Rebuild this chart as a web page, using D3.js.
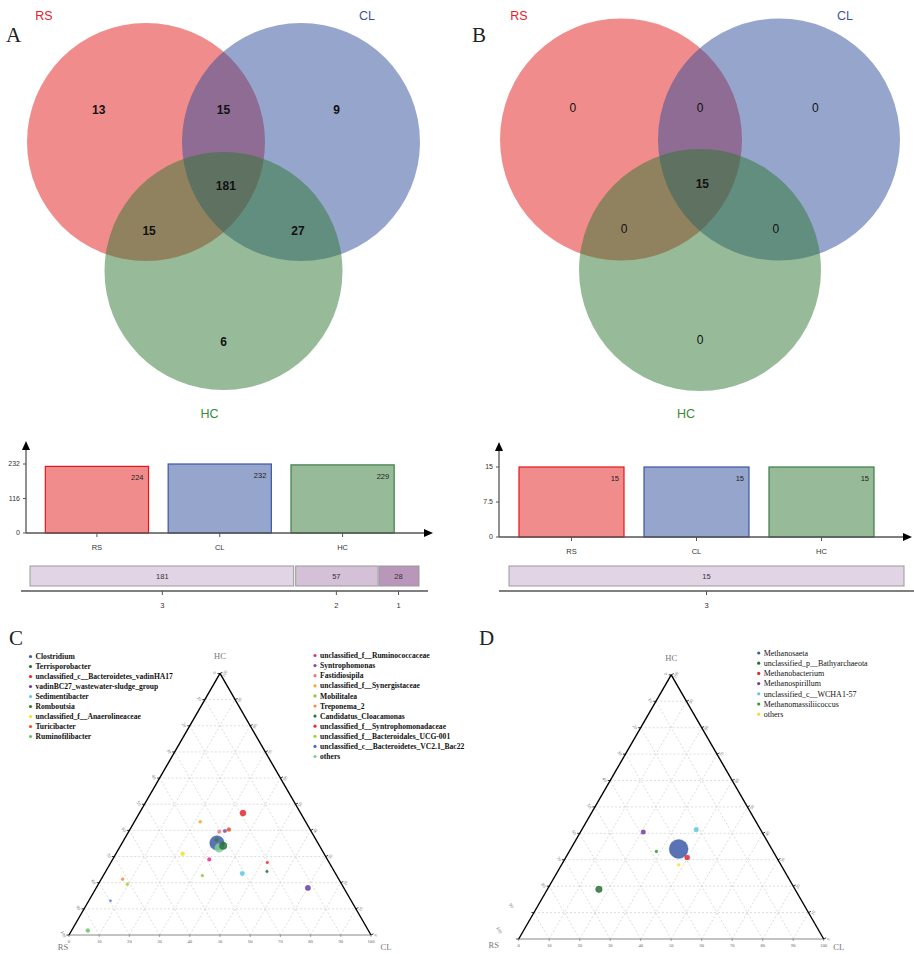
<!DOCTYPE html>
<html lang="en">
<head>
<meta charset="UTF-8" />
<title>Venn and ternary</title>
<script src="https://cdn.jsdelivr.net/npm/d3@7"></script>
<style>
  body { margin: 0; background: #fff; }
  svg text { font-family: "Liberation Sans", Arial, sans-serif; }
  .serif { font-family: "Liberation Serif", "Times New Roman", serif !important; }
</style>
</head>
<body>
<svg id="fig" width="914" height="954"></svg>
<script>
// ---- data ----
var groups = ["RS", "CL", "HC"];
var groupColors = ["#e41a1c", "#2b4b99", "#2f7731"];
var labelColors = ["#e8202a", "#3f51a5", "#3a8a3a"];
var barStrokes = ["#e8141a", "#3a55a5", "#3d7d45"];

// venn regions: RS only, RS&CL, CL only, RS&CL&HC, RS&HC, CL&HC, HC only
var regionKeys = ["RS", "RS&CL", "CL", "ALL", "RS&HC", "CL&HC", "HC"];
var vennA = [13, 15, 9, 181, 15, 27, 6];
var vennB = [0, 0, 0, 15, 0, 0, 0];

var totalsA = [224, 232, 229];
var totalsB = [15, 15, 15];
var yTicksA = [0, 116, 232];
var yTicksB = [0, 7.5, 15];

var sharedLabelsA = ["3", "2", "1"];
var sharedA = [181, 57, 28];
var sharedLabelsB = ["3"];
var sharedB = [15];
var sharedColors = {"3": "#e1d4e4", "2": "#d4c0d7", "1": "#b897ba"};

// ternary C: names, RS / CL / HC percentages, abundance
var taxaC = ["Clostridium", "Terrisporobacter", "unclassified_c__Bacteroidetes_vadinHA17",
  "vadinBC27_wastewater-sludge_group", "Sedimentibacter", "Romboutsia",
  "unclassified_f__Anaerolineaceae", "Turicibacter", "Ruminofilibacter",
  "unclassified_f__Ruminococcaceae", "Syntrophomonas", "Fastidiosipila",
  "unclassified_f__Synergistaceae", "Mobilitalea", "Treponema_2",
  "Candidatus_Cloacamonas", "unclassified_f__Syntrophomonadaceae",
  "unclassified_f__Bacteroidales_UCG-001", "unclassified_c__Bacteroidetes_VC2.1_Bac22", "others"];
var rsC = [33.4, 31.9, 19.1, 11.9, 30.9, 32.9, 46.8, 26.9, 92.9, 39.1, 28.5, 30.5, 34.9, 44.5, 71.6, 22.3, 20.5, 71.0, 79.7, 33.6];
var clC = [31.4, 34.0, 34.3, 70.1, 45.6, 30.7, 22.1, 32.8, 5.4, 32.0, 31.7, 30.0, 21.8, 32.8, 7.1, 53.4, 51.8, 9.6, 7.2, 33.1];
var hcC = [35.2, 34.1, 46.6, 18.0, 23.5, 36.4, 31.1, 40.3, 1.7, 28.9, 39.8, 39.5, 43.3, 22.7, 21.3, 24.3, 27.7, 19.4, 13.1, 33.3];
var abundC = [27, 7.4, 4.6, 3.7, 2.5, 1.7, 2.0, 2.0, 2.0, 1.7, 1.6, 1.6, 1.2, 1.0, 1.1, 0.9, 0.9, 1.0, 0.6, 10];
var colorsC = ["#3c5aa8", "#2a6e3a", "#e8262a", "#6b3fa0", "#5bc8e0", "#3a7a30",
  "#f2e01e", "#f04e23", "#6cc46c", "#e6288a", "#7b4f9d", "#f07474",
  "#f6a821", "#8dc63f", "#f7894a", "#1e7b3c", "#ea2a3c", "#a6d22e", "#4a6ecc", "#7fcf9a"];

var taxaD = ["Methanosaeta", "unclassified_p__Bathyarchaeota", "Methanobacterium",
  "Methanospirillum", "unclassified_c__WCHA1-57", "Methanomassiliicoccus", "others"];
var rsD = [30.5, 64.3, 29.3, 38.9, 21.1, 38.3, 33.5];
var clD = [35.4, 16.9, 39.8, 20.6, 37.5, 28.6, 38.4];
var hcD = [34.1, 18.8, 30.9, 40.5, 41.4, 33.1, 28.1];
var abundD = [46, 5.6, 3.2, 2.7, 2.7, 1.1, 0.9];
var colorsD = ["#3c5aa8", "#2a6e3a", "#e8262a", "#6b3fa0", "#5bc8e0", "#3a9a30", "#f2e01e"];

var gridTicks = [0, 10, 20, 30, 40, 50, 60, 70, 80, 90, 100];

var svg = d3.select("#fig");

// ---- venn ----
function venn(cx, cy, d, dy, r, counts, boldAll, letter, lx) {
  var g = svg.append("g");
  var centers = [[cx - d, cy], [cx + d, cy], [cx, cy + dy]];
  g.selectAll("circle").data(groups).enter().append("circle")
    .attr("cx", function(s, i) { return centers[i][0]; })
    .attr("cy", function(s, i) { return centers[i][1]; })
    .attr("r", r)
    .attr("fill", function(s, i) { return groupColors[i]; })
    .attr("fill-opacity", 0.5);
  // region label offsets (x in units of d, y in px from top row)
  var off = [[-1.61, -32], [0, -32], [1.46, -32], [0.03, 44], [-0.96, 89], [0.96, 89], [0, 200]];
  g.selectAll("text.n").data(counts).enter().append("text")
    .attr("class", "n")
    .attr("x", function(v, i) { return cx + off[i][0] * d; })
    .attr("y", function(v, i) { return cy + off[i][1]; })
    .attr("dy", "0.35em")
    .attr("text-anchor", "middle")
    .style("font-size", "12px")
    .style("font-weight", function(v, i) { return (boldAll || i == 3) ? "bold" : "normal"; })
    .style("fill", "#111")
    .text(function(v) { return v; });
  var lp = [[cx - d - 102, 16], [cx + d + 66, 16], [cx - 14, 414]];
  g.selectAll("text.g").data(groups).enter().append("text")
    .attr("class", "g")
    .attr("x", function(s, i) { return lp[i][0]; })
    .attr("y", function(s, i) { return lp[i][1]; })
    .attr("dy", "0.35em")
    .attr("text-anchor", "middle")
    .style("font-size", "12.5px")
    .style("fill", function(s, i) { return labelColors[i]; })
    .text(function(s) { return s; });
  svg.append("text").attr("class", "serif")
    .attr("x", lx).attr("y", 42)
    .style("font-size", "21px").style("fill", "#222")
    .text(letter);
}
venn(223.5, 142, 77.5, 129, 119, vennA, true, "A", 6);
venn(700, 139.5, 79, 130.5, 121, vennB, false, "B", 472);

// ---- bars ----
function arrowHead(g, x, y, dir) {
  var p = dir == "up" ? [[x, y], [x - 4, y + 9], [x + 4, y + 9]] : [[x, y], [x - 9, y - 4], [x - 9, y + 4]];
  g.append("path").attr("d", "M" + p.join("L") + "Z").attr("fill", "#000");
}

function barChart(x0, xEnd, y0, yTop, arrowTop, totals, yTicks, bandRange, shared, sharedLabels, sharedRange, lineRange) {
  var g = svg.append("g");
  var y = d3.scaleLinear().domain([0, yTicks[yTicks.length - 1]]).range([y0, yTop]);
  var x = d3.scaleBand().domain(groups).range(bandRange).paddingInner(0.16).paddingOuter(0.08);
  g.selectAll("rect.b").data(totals).enter().append("rect")
    .attr("class", "b")
    .attr("x", function(v, i) { return x(groups[i]); })
    .attr("y", function(v) { return y(v); })
    .attr("width", x.bandwidth())
    .attr("height", function(v) { return y0 - y(v); })
    .attr("fill", function(v, i) { return groupColors[i]; })
    .attr("fill-opacity", 0.5)
    .attr("stroke", function(v, i) { return barStrokes[i]; })
    .attr("stroke-width", 1.2);
  g.selectAll("text.v").data(totals).enter().append("text")
    .attr("class", "v")
    .attr("x", function(v, i) { return x(groups[i]) + x.bandwidth() - 5; })
    .attr("y", function(v) { return y(v) + 14; })
    .attr("text-anchor", "end")
    .style("font-size", "7.5px").style("fill", "#222")
    .text(function(v) { return v; });
  // axes
  g.append("line").attr("x1", x0).attr("x2", x0).attr("y1", y0).attr("y2", arrowTop + 6)
    .attr("stroke", "#555").attr("stroke-width", 1.3);
  arrowHead(g, x0, arrowTop, "up");
  g.append("line").attr("x1", x0).attr("x2", xEnd - 6).attr("y1", y0).attr("y2", y0)
    .attr("stroke", "#555").attr("stroke-width", 1.3);
  arrowHead(g, xEnd, y0, "right");
  g.selectAll("g.yt").data(yTicks).enter().append("g").attr("class", "yt")
    .each(function(t) {
      var s = d3.select(this);
      s.append("line").attr("x1", x0 - 3).attr("x2", x0).attr("y1", y(t)).attr("y2", y(t))
        .attr("stroke", "#555");
      s.append("text").attr("x", x0 - 6).attr("y", y(t)).attr("dy", "0.35em")
        .attr("text-anchor", "end").style("font-size", "7px").style("fill", "#333").text(t);
    });
  g.selectAll("g.xt").data(groups).enter().append("g").attr("class", "xt")
    .each(function(s) {
      var cx = x(s) + x.bandwidth() / 2;
      d3.select(this).append("line").attr("x1", cx).attr("x2", cx).attr("y1", y0).attr("y2", y0 + 4)
        .attr("stroke", "#555");
      d3.select(this).append("text").attr("x", cx).attr("y", y0 + 14).attr("dy", "0.35em")
        .attr("text-anchor", "middle").style("font-size", "7.5px").style("fill", "#333").text(s);
    });
  // shared-count bars
  var total = d3.sum(shared);
  var sx = d3.scaleLinear().domain([0, total]).range(sharedRange);
  var cum = [0];
  shared.forEach(function(v, i) { cum.push(cum[i] + v); });
  g.selectAll("rect.s").data(shared).enter().append("rect")
    .attr("class", "s")
    .attr("x", function(v, i) { return sx(cum[i]) + (i > 0 ? 1 : 0); })
    .attr("y", 566)
    .attr("width", function(v, i) { return sx(cum[i + 1]) - sx(cum[i]) - (shared.length > 1 ? 1 : 0); })
    .attr("height", 20)
    .attr("fill", function(v, i) { return sharedColors[sharedLabels[i]]; })
    .attr("stroke", "#9a9a9a").attr("stroke-width", 1);
  g.selectAll("text.s").data(shared).enter().append("text")
    .attr("class", "s")
    .attr("x", function(v, i) { return (sx(cum[i]) + sx(cum[i + 1])) / 2; })
    .attr("y", 576).attr("dy", "0.35em").attr("text-anchor", "middle")
    .style("font-size", "7.5px").style("fill", "#333")
    .text(function(v) { return v; });
  g.append("line").attr("x1", lineRange[0]).attr("x2", lineRange[1]).attr("y1", 591).attr("y2", 591)
    .attr("stroke", "#555").attr("stroke-width", 1.3);
  g.selectAll("g.st").data(shared).enter().append("g").attr("class", "st")
    .each(function(v, i) {
      var cx = (sx(cum[i]) + sx(cum[i + 1])) / 2;
      d3.select(this).append("line").attr("x1", cx).attr("x2", cx).attr("y1", 591).attr("y2", 595)
        .attr("stroke", "#555");
      d3.select(this).append("text").attr("x", cx).attr("y", 605).attr("dy", "0.35em")
        .attr("text-anchor", "middle").style("font-size", "7.5px").style("fill", "#333").text(sharedLabels[i]);
    });
}
barChart(26, 433, 533, 464, 441, totalsA, yTicksA, [35.5, 404], sharedA, sharedLabelsA, [30, 419], [21, 428]);
barChart(499, 912, 537, 467, 442, totalsB, yTicksB, [509, 884], sharedB, sharedLabelsB, [509, 904], [499, 914]);

// ---- ternary ----
function ternary(blx, bly, side, rs, cl, hc, abund, colors, letter, lpos, shift, axisPos) {
  var g = svg.append("g");
  var h = side * Math.sqrt(3) / 2;
  var sc = d3.scaleLinear().domain([0, 100]).range([0, 1]);
  function pt(a, b, c) { // RS, CL, HC
    return [blx + side * (sc(b) + sc(c) / 2), bly - h * sc(c)];
  }
  var grid = [];
  gridTicks.slice(1, -1).forEach(function(k) {
    grid.push([pt(100 - k, 0, k), pt(0, 100 - k, k)]);
    grid.push([pt(100 - k, k, 0), pt(0, k, 100 - k)]);
    grid.push([pt(k, 100 - k, 0), pt(k, 0, 100 - k)]);
  });
  g.selectAll("line.grid").data(grid).enter().append("line").attr("class", "grid")
    .attr("x1", function(d) { return d[0][0]; }).attr("y1", function(d) { return d[0][1]; })
    .attr("x2", function(d) { return d[1][0]; }).attr("y2", function(d) { return d[1][1]; })
    .attr("stroke", "#c4c4c4").attr("stroke-width", 0.6).attr("stroke-dasharray", "2,2");
  var A = pt(0, 0, 100), L = pt(100, 0, 0), R = pt(0, 100, 0);
  g.append("line").attr("x1", L[0]).attr("y1", L[1]).attr("x2", R[0]).attr("y2", R[1])
    .attr("stroke", "#888").attr("stroke-width", 1);
  g.append("line").attr("x1", L[0]).attr("y1", L[1]).attr("x2", A[0]).attr("y2", A[1])
    .attr("stroke", "#000").attr("stroke-width", 1.4);
  g.append("line").attr("x1", R[0]).attr("y1", R[1]).attr("x2", A[0]).attr("y2", A[1])
    .attr("stroke", "#000").attr("stroke-width", 1.4);
  var fs = "4.6px", tc = "#666";
  gridTicks.forEach(function(v) {
    var b = pt(100 - v, v, 0);
    g.append("line").attr("x1", b[0]).attr("x2", b[0]).attr("y1", b[1]).attr("y2", b[1] + 2).attr("stroke", "#666").attr("stroke-width", 0.6);
    g.append("text").attr("class", "serif").attr("x", b[0]).attr("y", b[1] + 8).attr("text-anchor", "middle")
      .style("font-size", fs).style("fill", tc).text(v);
    var r = pt(0, 100 - v, v);
    g.append("line").attr("x1", r[0]).attr("x2", r[0] + 2.5).attr("y1", r[1]).attr("y2", r[1] - 1.2).attr("stroke", "#000").attr("stroke-width", 0.8);
    g.append("text").attr("class", "serif").attr("transform", "translate(" + (r[0] + 6) + "," + (r[1] + 1) + ") rotate(-60)")
      .attr("text-anchor", "middle").style("font-size", fs).style("fill", tc).text(v);
    var l = pt(v, 0, 100 - v);
    var extra = shift[v] || [0, 0];
    g.append("line").attr("x1", l[0] - 2.5).attr("x2", l[0]).attr("y1", l[1]).attr("y2", l[1]).attr("stroke", "#000").attr("stroke-width", 0.8);
    g.append("text").attr("class", "serif").attr("transform", "translate(" + (l[0] - 7 + extra[0]) + "," + (l[1] + extra[1]) + ") rotate(60)")
      .attr("text-anchor", "middle").style("font-size", fs).style("fill", tc).text(v);
  });
  var names = ["HC", "RS", "CL"];
  var corners = [A, L, R];
  g.selectAll("text.ax").data(names).enter().append("text").attr("class", "serif ax")
    .attr("x", function(n, i) { return corners[i][0] + axisPos[i][0]; })
    .attr("y", function(n, i) { return corners[i][1] + axisPos[i][1]; })
    .attr("text-anchor", "middle")
    .style("font-size", "8.5px").style("fill", "#777")
    .text(function(n) { return n; });
  var rScale = d3.scaleSqrt().domain([0, 100]).range([0, 14]);
  var idx = d3.range(rs.length).sort(function(a, b) { return abund[b] - abund[a]; });
  g.selectAll("circle.p").data(idx).enter().append("circle").attr("class", "p")
    .attr("cx", function(i) { return pt(rs[i], cl[i], hc[i])[0]; })
    .attr("cy", function(i) { return pt(rs[i], cl[i], hc[i])[1]; })
    .attr("r", function(i) { return rScale(abund[i]); })
    .attr("fill", function(i) { return colors[i]; })
    .attr("fill-opacity", 0.85)
    .attr("stroke", function(i) { return colors[i]; })
    .attr("stroke-opacity", 0.35).attr("stroke-width", 1);
  svg.append("text").attr("class", "serif")
    .attr("x", lpos[0]).attr("y", lpos[1])
    .style("font-size", "21px").style("fill", "#222")
    .text(letter);
}

function legend(x, y0, step, names, colors, bold, fsz) {
  var g = svg.append("g");
  g.selectAll("circle").data(names).enter().append("circle")
    .attr("cx", x).attr("cy", function(n, i) { return y0 + i * step; })
    .attr("r", 1.6).attr("fill", function(n, i) { return colors[i]; });
  g.selectAll("text").data(names).enter().append("text").attr("class", "serif")
    .attr("x", x + 5).attr("y", function(n, i) { return y0 + i * step; })
    .attr("dy", "0.35em")
    .style("font-size", fsz).style("font-weight", bold ? "bold" : "normal").style("fill", "#111")
    .text(function(n) { return n; });
}

ternary(69, 935, 302, rsC, clC, hcC, abundC, colorsC, "C", [9, 645], {},
  [[0, -14], [-6, 15], [15, 15]]);
legend(30.5, 656.5, 10, taxaC.slice(0, 9), colorsC.slice(0, 9), true, "7.6px");
legend(315, 655.5, 10.1, taxaC.slice(9), colorsC.slice(9), true, "7.6px");

ternary(518.7, 939, 305, rsD, clD, hcD, abundD, colorsD, "D", [479, 645], {90: [-17, -6], 100: [-14, -8]},
  [[0, -14], [-25, 9], [15, 11]]);
legend(758.7, 653, 10.2, taxaD, colorsD, false, "8px");
</script>
</body>
</html>
